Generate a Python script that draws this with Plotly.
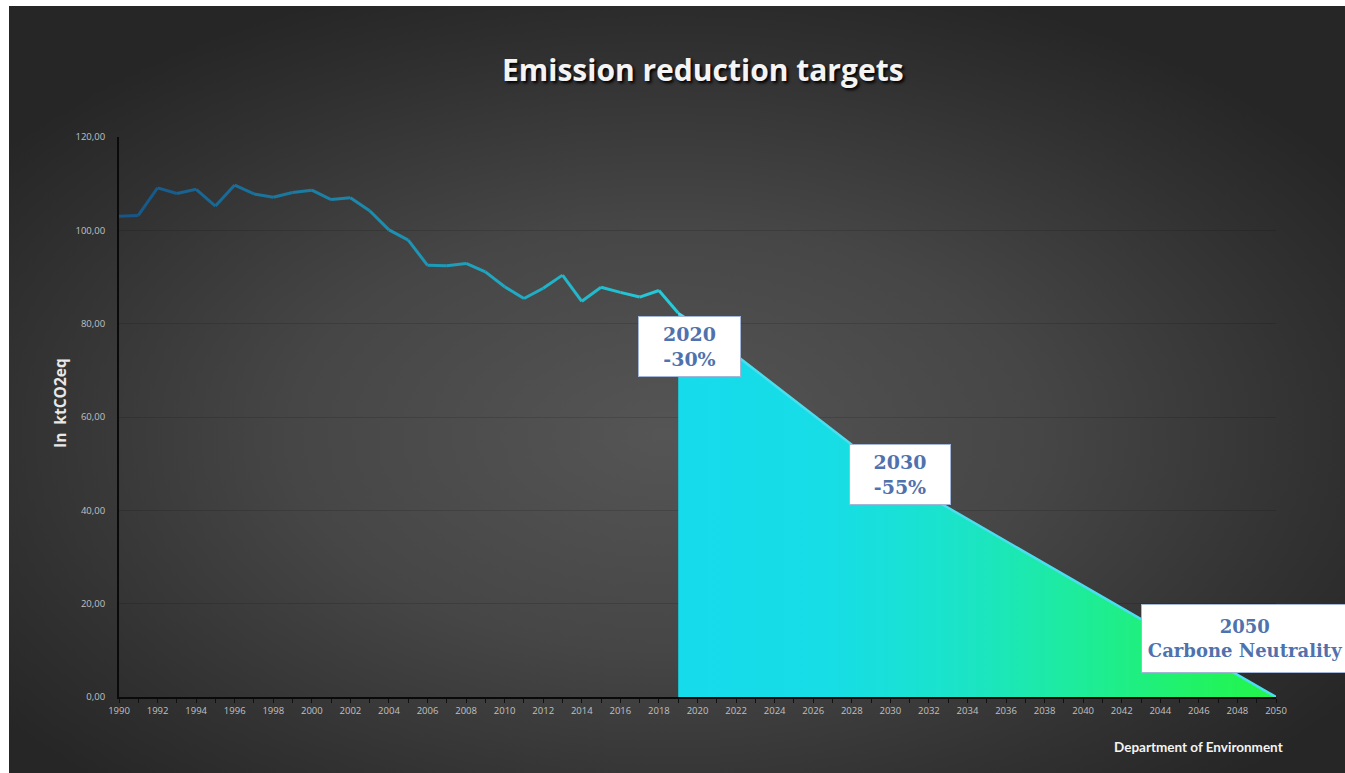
import base64
import plotly.graph_objects as go

# ---- data ----
hist_years = list(range(1990, 2020))
hist_values = [103.0, 103.2, 109.1, 107.9, 108.8, 105.2, 109.7, 107.8, 107.1, 108.1,
               108.6, 106.6, 107.0, 104.2, 100.1, 97.9, 92.5, 92.4, 92.9, 91.1,
               87.9, 85.4, 87.6, 90.4, 84.8, 87.8, 86.7, 85.7, 87.1, 82.3]
target_years = [2019, 2020, 2030, 2050]
target_values = [82.3, 79.6, 47.7, 0.0]
y_ticks = [0, 20, 40, 60, 80, 100, 120]
x_tick_years = list(range(1990, 2051, 2))

# ---- geometry helpers (pixel layout) ----
W, H = 1345, 773
L, R, T, B = 119, 69, 137, 76
PW, PH = W - L - R, H - T - B


def px(xpix):
    return (xpix - L) / PW


def py(ypix):
    return (H - B - ypix) / PH


# background radial gradient (svg data uri)
svg = f'''<svg xmlns="http://www.w3.org/2000/svg" width="1336" height="767" viewBox="0 0 1336 767" preserveAspectRatio="none">
<defs><radialGradient id="g" cx="0.49" cy="0.56" r="0.62">
<stop offset="0" stop-color="#555555"/>
<stop offset="0.45" stop-color="#464646"/>
<stop offset="0.8" stop-color="#313131"/>
<stop offset="1" stop-color="#262626"/>
</radialGradient></defs>
<rect x="0" y="0" width="1336" height="767" fill="url(#g)"/></svg>'''
bg_uri = "data:image/svg+xml;base64," + base64.b64encode(svg.encode()).decode()

fig = go.Figure()

# target area with horizontal gradient
fig.add_trace(go.Scatter(
    x=target_years, y=target_values, mode="lines", fill="tozeroy",
    line=dict(color="#4adeee", width=2.5),
    fillgradient=dict(type="horizontal", start=2019, stop=2050,
                      colorscale=[[0, "#15dbec"], [0.25, "#17dde6"], [0.45, "#1ae3cc"],
                                  [0.65, "#1deba0"], [0.85, "#20f26a"], [1, "#23f548"]]),
    hoverinfo="skip", showlegend=False))


# historical line with colour gradient (segment by segment)
def lerp(c1, c2, t):
    return "rgb(%d,%d,%d)" % tuple(round(a + (b - a) * t) for a, b in zip(c1, c2))


c_start, c_end = (22, 86, 136), (36, 204, 218)
n = len(hist_years)
for i in range(n - 1):
    t = i / (n - 2)
    fig.add_trace(go.Scatter(
        x=hist_years[i:i + 2], y=hist_values[i:i + 2], mode="lines",
        line=dict(color=lerp(c_start, c_end, t), width=3),
        hoverinfo="skip", showlegend=False))

tick_font = dict(family="Open Sans", size=9.5, color="#c0c0c0")

fig.update_layout(
    width=W, height=H,
    margin=dict(l=L, r=R, t=T, b=B, pad=0),
    paper_bgcolor="white", plot_bgcolor="rgba(0,0,0,0)",
    separators=",.",
    showlegend=False,
    images=[dict(source=bg_uri, xref="paper", yref="paper",
                 x=px(9), y=py(6), sizex=(W - 9) / PW, sizey=(H - 6) / PH,
                 xanchor="left", yanchor="top", sizing="stretch", layer="below")],
    xaxis=dict(range=[1990, 2050], tickmode="array", tickvals=x_tick_years,
               ticktext=[str(v) for v in x_tick_years],
               showgrid=False, zeroline=False, showline=True, linecolor="#0a0a0a", linewidth=2,
               ticks="outside", ticklen=4, tickcolor="#111111", tickwidth=1,
               minor=dict(tickmode="linear", tick0=1990, dtick=1, ticks="outside",
                          ticklen=4, tickcolor="#111111", showgrid=False),
               tickfont=tick_font, fixedrange=True),
    yaxis=dict(range=[0, 120], tickmode="array", tickvals=y_ticks, tickformat=".2f",
               showgrid=True, gridcolor="rgba(0,0,0,0.13)", gridwidth=1,
               zeroline=False, showline=True, linecolor="#0a0a0a", linewidth=2,
               ticks="", ticklabelstandoff=10,
               tickfont=tick_font, fixedrange=True),
)

ann_font = dict(family="DejaVu Serif", size=19, color="#4f72ae", weight="bold")
annotations = [
    dict(text="<b>Emission reduction targets</b>", xref="paper", yref="paper",
         x=px(703), y=py(70), xanchor="center", yanchor="middle", showarrow=False,
         font=dict(family="Open Sans", size=30, color="#f4f4f4", shadow="2px 2px 3px #000000")),
    dict(text="<b>In&nbsp;&nbsp;ktCO2eq</b>", xref="paper", yref="paper", textangle=-90,
         x=px(60), y=py(403), xanchor="center", yanchor="middle", showarrow=False,
         font=dict(family="Open Sans", size=15.5, color="#e8e8e8")),
    dict(text="<b>Department of Environment</b>", xref="paper", yref="paper",
         x=px(1285), y=py(747), xanchor="right", yanchor="middle", showarrow=False,
         font=dict(family="Lato", size=13.5, color="#f4f4f4")),
    dict(text="2020<br>-30%", xref="paper", yref="paper",
         x=px(689.5), y=py(346.5), xanchor="center", yanchor="middle", showarrow=False,
         width=101, height=59, bgcolor="white", bordercolor="#a3b6d8", borderwidth=1, borderpad=0,
         font=ann_font),
    dict(text="2030<br>-55%", xref="paper", yref="paper",
         x=px(900), y=py(474.5), xanchor="center", yanchor="middle", showarrow=False,
         width=100, height=59, bgcolor="white", bordercolor="#a3b6d8", borderwidth=1, borderpad=0,
         font=ann_font),
    dict(text="2050<br>Carbone Neutrality", xref="paper", yref="paper",
         x=px(1141), y=py(638.5), xanchor="left", yanchor="middle", showarrow=False,
         width=206, height=67, bgcolor="white", bordercolor="#a3b6d8", borderwidth=1, borderpad=0,
         font=dict(family="DejaVu Serif", size=18, color="#4f72ae", weight="bold")),
]
fig.update_layout(annotations=annotations)

fig.write_html("out.html", config={"displayModeBar": False},
               post_script="document.body.style.margin='0';document.body.style.overflow='hidden';")
